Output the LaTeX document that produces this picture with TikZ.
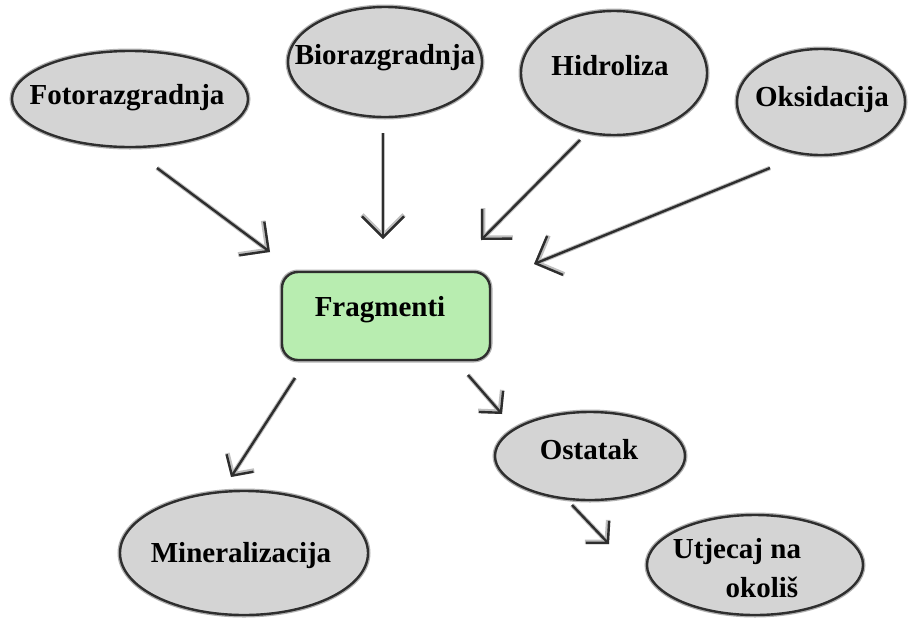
\documentclass[tikz,border=0pt]{standalone}
\usepackage{fontspec}
\setmainfont{Liberation Serif}
\usetikzlibrary{shapes.geometric,arrows.meta}
\definecolor{ellgray}{HTML}{D4D4D4}
\definecolor{fraggreen}{HTML}{B8EDB0}
\definecolor{edge}{HTML}{2E2E2E}
\tikzset{
  halo/.style={preaction={draw=black!30, line width=5pt}},
  ell/.style={ellipse, draw=edge, line width=2.4pt, fill=ellgray, inner sep=0pt, halo},
  fragbox/.style={rectangle, rounded corners=16pt, draw=edge, line width=2.4pt, fill=fraggreen, inner sep=0pt, halo},
  lbl/.style={font=\fontsize{29}{32}\selectfont\bfseries, inner sep=0pt, align=left},
  bigarr/.style={draw=edge, line width=2.4pt, -{Straight Barb[length=21pt,width=42pt]}, preaction={draw=black!25, line width=4.5pt, -{Straight Barb[length=21pt,width=42pt]}}},
  smallarr/.style={draw=edge, line width=2.4pt, -{Straight Barb[length=15pt,width=32pt]}, preaction={draw=black!25, line width=4.5pt, -{Straight Barb[length=15pt,width=32pt]}}}
}
\begin{document}
\begin{tikzpicture}[x=1pt,y=-1pt]
\useasboundingbox (0,0) rectangle (918,619);
% shapes
\node[ell, minimum width=236pt, minimum height=96pt] (foto) at (130,99) {};
\node[ell, minimum width=194pt, minimum height=110pt] (bio) at (385,62) {};
\node[ell, minimum width=186pt, minimum height=124pt] (hidro) at (614,73) {};
\node[ell, minimum width=168pt, minimum height=106pt] (oks) at (821,102) {};
\node[fragbox, minimum width=208pt, minimum height=88pt] (frag) at (386,316) {};
\node[ell, minimum width=248pt, minimum height=124pt] (mineral) at (244,553) {};
\node[ell, minimum width=190pt, minimum height=88pt] (ostatak) at (590,456) {};
\node[ell, minimum width=216pt, minimum height=100pt] (utjecaj) at (755,565) {};
% labels
\node[lbl] (tfoto) at (127,98) {Fotorazgradnja};
\node[lbl] (tbio) at (385,58) {Biorazgradnja};
\node[lbl] (thidro) at (610,66) {Hidroliza};
\node[lbl] (toks) at (822,100) {Oksidacija};
\node[lbl] (tfrag) at (380,310) {Fragmenti};
\node[lbl] (tmineral) at (241,556) {Mineralizacija};
\node[lbl] (tostatak) at (589,450) {Ostatak};
\node[lbl] (tutj1) at (737,552) {Utjecaj na};
\node[lbl] (tutj2) at (762,587) {okoliš};
% arrow ends
\coordinate (fotoT) at (157,168);
\coordinate (fotoH) at (270,252);
\coordinate (bioT) at (383,133);
\coordinate (bioH) at (383,239);
\coordinate (hidroT) at (580,140);
\coordinate (hidroH) at (481,240);
\coordinate (oksT) at (770,168);
\coordinate (oksH) at (534,264);
\coordinate (minT) at (295,378);
\coordinate (minH) at (231,477);
\coordinate (ostT) at (468,375);
\coordinate (ostH) at (502,414);
\coordinate (utjT) at (572,505);
\coordinate (utjH) at (609,544);
% connectors
\draw[bigarr] (fotoT) -- (fotoH);
\draw[bigarr] (bioT) -- (bioH);
\draw[bigarr] (hidroT) -- (hidroH);
\draw[bigarr] (oksT) -- (oksH);
\draw[smallarr] (minT) -- (minH);
\draw[smallarr] (ostT) -- (ostH);
\draw[smallarr] (utjT) -- (utjH);
\end{tikzpicture}
\end{document}
